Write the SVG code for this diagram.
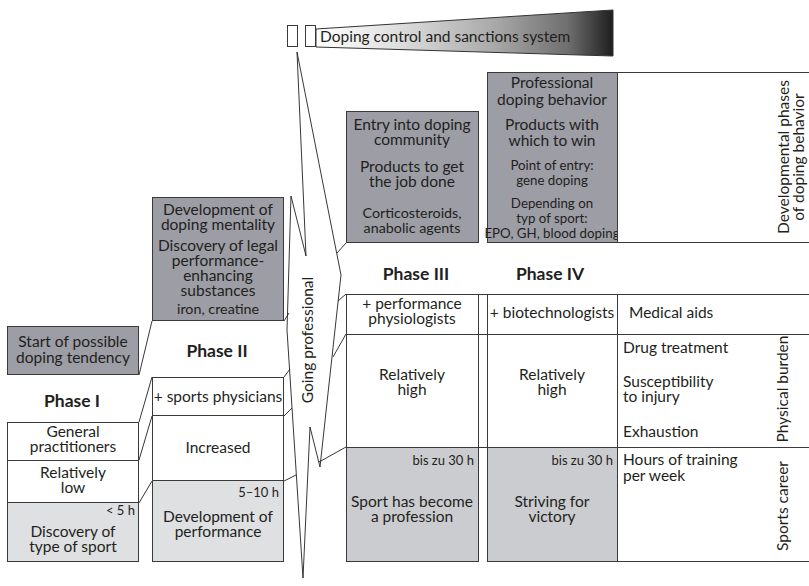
<svg xmlns="http://www.w3.org/2000/svg" width="809" height="586" viewBox="0 0 809 586">
<defs>
<linearGradient id="barGrad" x1="0" y1="0" x2="1" y2="0">
<stop offset="0" stop-color="#ffffff"/>
<stop offset="0.25" stop-color="#e2e2e2"/>
<stop offset="0.6" stop-color="#a9a9a9"/>
<stop offset="0.85" stop-color="#6e6e6e"/>
<stop offset="1" stop-color="#1e1e1e"/>
</linearGradient>
<style>
.t{font-family:Lato,"Liberation Sans",sans-serif;font-size:15.5px;fill:#231f20;text-anchor:middle}
.s{font-size:14.3px}
.xs{font-size:13px}
.m{font-size:13.3px}
.l{text-anchor:start}
.e{text-anchor:end}
.b{font-weight:bold;font-size:17.5px}
.dk{fill:#9c9da5;stroke:#3a3a3a;stroke-width:1}
.wh{fill:#ffffff;stroke:#3a3a3a;stroke-width:1}
.lt{fill:#dfe0e2;stroke:#3a3a3a;stroke-width:1}
.md{fill:#cbcccf;stroke:#3a3a3a;stroke-width:1}
.ln{fill:none;stroke:#231f20;stroke-width:0.9}
</style>
</defs>
<rect width="809" height="586" fill="#ffffff"/>

<g id="control-bar">
<rect x="287.5" y="25.5" width="10" height="21" class="wh"/>
<rect x="305.5" y="25.5" width="10" height="21" class="wh"/>
<polygon points="316,29 613,10 613,56 316,47" fill="url(#barGrad)" stroke="#333" stroke-width="1"/>
<text class="t l" x="320" y="42">Doping control and sanctions system</text>
</g>

<g id="going-professional">
<polygon class="ln" fill="#fff" points="297,52 341,275 330,375 320,467 310,427 303,578 287,330 291,196 306,256"/>
<text class="t" transform="translate(313,340) rotate(-90)">Going professional</text>
</g>

<g id="connectors" class="ln">
<line x1="139" y1="375" x2="152" y2="321"/>
<line x1="139" y1="422" x2="152" y2="377"/>
<line x1="139" y1="460" x2="152" y2="416"/>
<line x1="139" y1="503" x2="152" y2="481"/>
<line x1="284" y1="321" x2="289" y2="313"/>
<line x1="284" y1="377" x2="290" y2="369"/>
<line x1="284" y1="416" x2="292" y2="408"/>
<line x1="284" y1="481" x2="296" y2="475"/>
<line x1="346" y1="243" x2="337" y2="253"/>
<line x1="346" y1="294" x2="338" y2="301"/>
<line x1="346" y1="334" x2="333" y2="357"/>
<line x1="346" y1="447" x2="319" y2="462"/>
</g>

<g id="phase1">
<g id="p1-start"><rect x="7.5" y="326.5" width="131" height="48" class="dk"/>
<text class="t" x="73" y="347">Start of possible</text><text class="t" x="73" y="363">doping tendency</text></g>
<text id="p1-label" class="t b" x="72" y="407">Phase I</text>
<g id="p1-gp"><rect x="7.5" y="422.5" width="131" height="38" class="wh"/>
<text class="t" x="73" y="437">General</text><text class="t" x="73" y="452">practitioners</text></g>
<g id="p1-burden"><rect x="7.5" y="460.5" width="131" height="42" class="wh"/>
<text class="t" x="73" y="478">Relatively</text><text class="t" x="73" y="493">low</text></g>
<g id="p1-career"><rect x="7.5" y="502.5" width="131" height="59" class="lt"/>
<text class="t xs e" x="135" y="515">&lt; 5 h</text>
<text class="t" x="73" y="537">Discovery of</text><text class="t" x="73" y="552">type of sport</text></g>
</g>

<g id="phase2">
<g id="p2-doping"><rect x="152.5" y="197.5" width="131" height="123" class="dk"/>
<text class="t" x="218" y="215">Development of</text><text class="t" x="218" y="230">doping mentality</text>
<text class="t" x="218" y="251">Discovery of legal</text><text class="t" x="218" y="266">performance-</text>
<text class="t" x="218" y="281">enhancing</text><text class="t" x="218" y="296">substances</text>
<text class="t s" x="218" y="314">iron, creatine</text></g>
<text id="p2-label" class="t b" x="217" y="357">Phase II</text>
<g id="p2-aids"><rect x="152.5" y="377.5" width="131" height="38" class="wh"/>
<text class="t" x="218" y="402">+ sports physicians</text></g>
<g id="p2-burden"><rect x="152.5" y="415.5" width="131" height="65" class="wh"/>
<text class="t" x="218" y="453">Increased</text></g>
<g id="p2-career"><rect x="152.5" y="480.5" width="131" height="81" class="lt"/>
<text class="t xs e" x="279" y="497">5–10 h</text>
<text class="t" x="218" y="522">Development of</text><text class="t" x="218" y="537">performance</text></g>
</g>

<g id="phase3">
<g id="p3-doping"><rect x="346.5" y="111.5" width="132" height="131" class="dk"/>
<text class="t" x="412" y="130">Entry into doping</text><text class="t" x="412" y="145">community</text>
<text class="t" x="412" y="172">Products to get</text><text class="t" x="412" y="187">the job done</text>
<text class="t s" x="412" y="218">Corticosteroids,</text><text class="t s" x="412" y="233">anabolic agents</text></g>
<text id="p3-label" class="t b" x="416" y="280">Phase III</text>
<g id="p3-aids"><rect x="346.5" y="294.5" width="132" height="40" class="wh"/>
<text class="t" x="412" y="309">+ performance</text><text class="t" x="412" y="324">physiologists</text></g>
<g id="p3-burden"><rect x="346.5" y="334.5" width="132" height="113" class="wh"/>
<text class="t" x="412" y="380">Relatively</text><text class="t" x="412" y="395">high</text></g>
<g id="p3-career"><rect x="346.5" y="447.5" width="132" height="114" class="md"/>
<text class="t xs e" x="474" y="465">bis zu 30 h</text>
<text class="t" x="412" y="507">Sport has become</text><text class="t" x="412" y="522">a profession</text></g>
</g>

<g id="gap-column" class="ln">
<line x1="487.5" y1="294.5" x2="487.5" y2="561.5"/>
<line x1="478.5" y1="294.5" x2="487.5" y2="294.5"/>
<line x1="478.5" y1="334.5" x2="487.5" y2="334.5"/>
<line x1="478.5" y1="447.5" x2="487.5" y2="447.5"/>
</g>

<g id="phase4">
<g id="p4-doping"><rect x="487.5" y="72.5" width="130" height="170" class="dk"/>
<text class="t" x="552" y="88">Professional</text><text class="t" x="552" y="105">doping behavior</text>
<text class="t" x="552" y="130">Products with</text><text class="t" x="552" y="146">which to win</text>
<text class="t m" x="552" y="170">Point of entry:</text><text class="t m" x="552" y="185">gene doping</text>
<text class="t m" x="552" y="208">Depending on</text><text class="t m" x="552" y="223">typ of sport:</text>
<text class="t m" x="552" y="238">EPO, GH, blood doping</text></g>
<text id="p4-label" class="t b" x="550" y="280">Phase IV</text>
<g id="p4-aids"><rect x="487.5" y="294.5" width="130" height="40" class="wh"/>
<text class="t" x="552" y="318">+ biotechnologists</text></g>
<g id="p4-burden"><rect x="487.5" y="334.5" width="130" height="113" class="wh"/>
<text class="t" x="552" y="380">Relatively</text><text class="t" x="552" y="395">high</text></g>
<g id="p4-career"><rect x="487.5" y="447.5" width="130" height="114" class="md"/>
<text class="t xs e" x="613" y="465">bis zu 30 h</text>
<text class="t" x="552" y="507">Striving for</text><text class="t" x="552" y="522">victory</text></g>
</g>

<g id="legend">
<g id="legend-phases"><rect x="617.5" y="72.5" width="200" height="170" class="wh"/>
<text class="t" transform="translate(789,157) rotate(-90)">Developmental phases</text>
<text class="t" transform="translate(804,157) rotate(-90)">of doping behavior</text></g>
<g id="legend-aids"><rect x="617.5" y="294.5" width="200" height="40" class="wh"/>
<text class="t l" x="629" y="318">Medical aids</text></g>
<g id="legend-burden"><rect x="617.5" y="334.5" width="200" height="113" class="wh"/>
<text class="t l" x="623" y="353">Drug treatment</text>
<text class="t l" x="623" y="387">Susceptibility</text><text class="t l" x="623" y="402">to injury</text>
<text class="t l" x="623" y="437">Exhaustion</text>
<text class="t" transform="translate(788,389) rotate(-90)">Physical burden</text></g>
<g id="legend-career"><rect x="617.5" y="447.5" width="200" height="114" class="wh"/>
<text class="t l" x="623" y="465">Hours of training</text><text class="t l" x="623" y="481">per week</text>
<text class="t" transform="translate(788,506) rotate(-90)">Sports career</text></g>
</g>
</svg>
